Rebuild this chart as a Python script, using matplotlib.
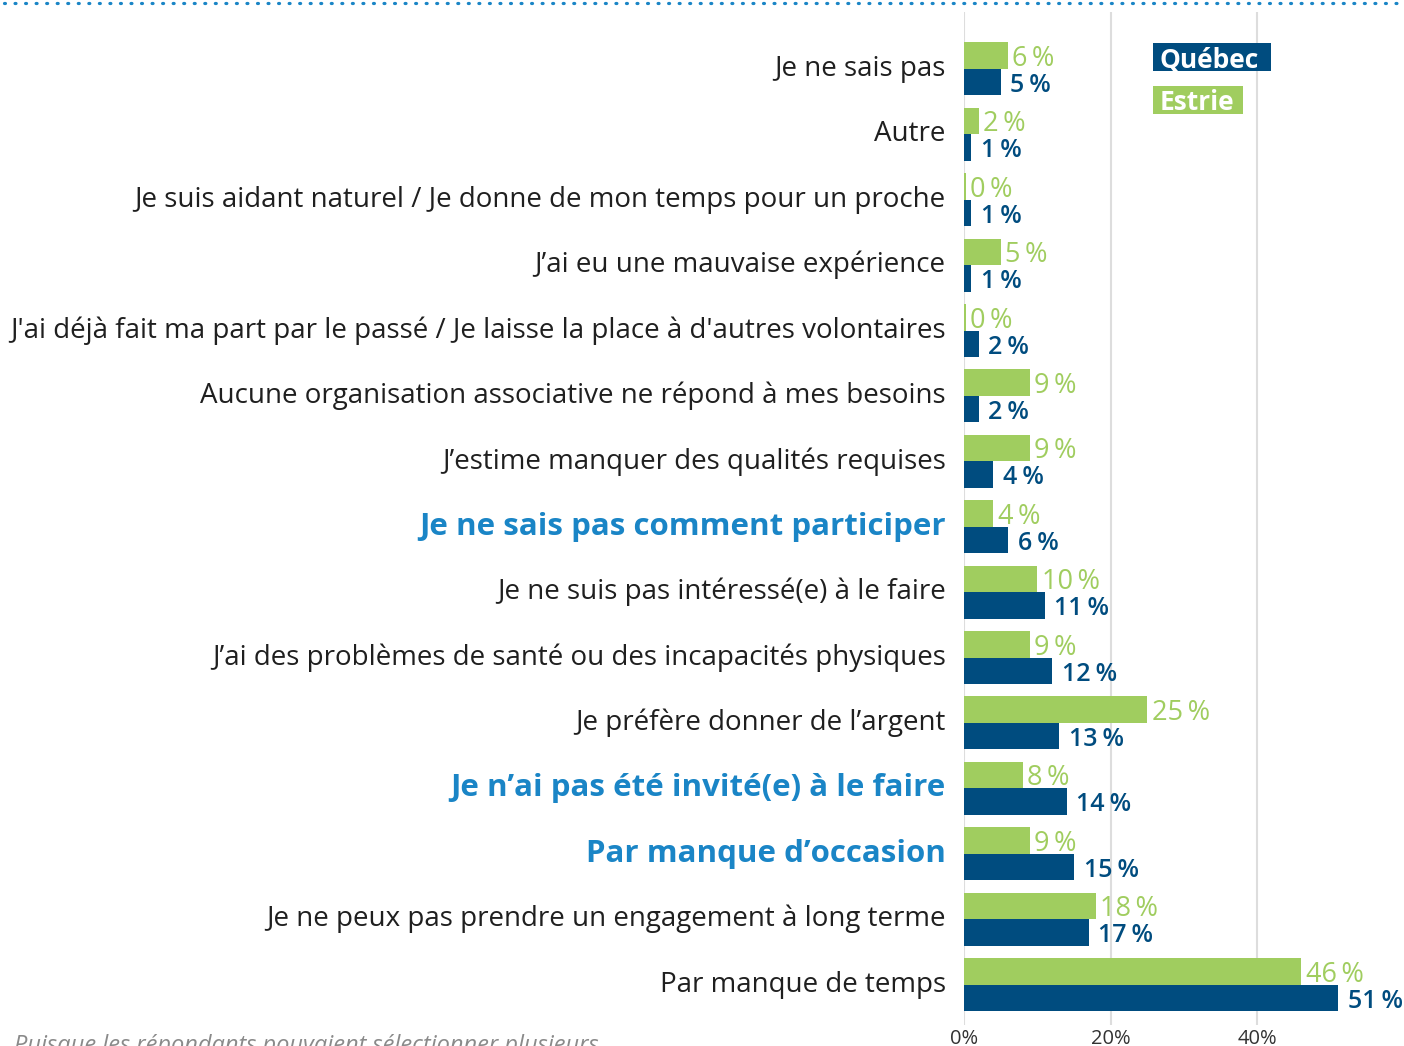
import matplotlib
matplotlib.use("Agg")
import matplotlib.pyplot as plt
from matplotlib.patches import Rectangle
import numpy as np

categories = [
    "Je ne sais pas",
    "Autre",
    "Je suis aidant naturel / Je donne de mon temps pour un proche",
    "J\u2019ai eu une mauvaise expérience",
    "J'ai déjà fait ma part par le passé / Je laisse la place à d'autres volontaires",
    "Aucune organisation associative ne répond à mes besoins",
    "J\u2019estime manquer des qualités requises",
    "Je ne sais pas comment participer",
    "Je ne suis pas intéressé(e) à le faire",
    "J\u2019ai des problèmes de santé ou des incapacités physiques",
    "Je préfère donner de l\u2019argent",
    "Je n\u2019ai pas été invité(e) à le faire",
    "Par manque d\u2019occasion",
    "Je ne peux pas prendre un engagement à long terme",
    "Par manque de temps",
]
highlighted = [
    "Je ne sais pas comment participer",
    "Je n\u2019ai pas été invité(e) à le faire",
    "Par manque d\u2019occasion",
]
estrie = [6, 2, 0, 5, 0, 9, 9, 4, 10, 9, 25, 8, 9, 18, 46]
quebec = [5, 1, 1, 1, 2, 2, 4, 6, 11, 12, 13, 14, 15, 17, 51]
xticks = [0, 20, 40]

GREEN = "#a0cd5f"
BLUE = "#004c7f"
HIGHLIGHT = "#1a85c6"
FONT = "Open Sans"

fig = plt.figure(figsize=(14.04, 10.46), dpi=100)
ax = fig.add_axes([0.6866, 0.020, 0.3134, 0.9685])

y = np.arange(len(categories))
h = 0.405
# 0 % bars still show as a hairline in the reference
est_draw = [max(v, 0.25) for v in estrie]
ax.barh(y - h / 2, est_draw, height=h, color=GREEN, zorder=3)
ax.barh(y + h / 2, quebec, height=h, color=BLUE, zorder=3)

for yi, v, vd in zip(y, estrie, est_draw):
    ax.text(vd + 0.6, yi - h / 2 + 0.05, f"{v}\u2009%", color=GREEN, fontsize=19.5,
            family=FONT, va="center", ha="left")
for yi, v in zip(y, quebec):
    ax.text(v + 1.3, yi + h / 2 + 0.05, f"{v}\u2009%", color=BLUE, fontsize=18,
            family=FONT, fontweight="semibold", va="center", ha="left")

ax.set_ylim(14.62, -0.87)
ax.set_xlim(0, 60)
ax.set_yticks(y)
ax.set_yticklabels([])
for yi, c in zip(y, categories):
    if c in highlighted:
        ax.text(-2.5, yi, c, ha="right", va="center", fontsize=22.5, fontweight="bold",
                color=HIGHLIGHT, family=FONT, clip_on=False)
    else:
        ax.text(-2.5, yi, c, ha="right", va="center", fontsize=20,
                color="#1f1f1f", family=FONT, clip_on=False)
ax.tick_params(axis="y", length=0)

ax.set_xticks(xticks)
ax.set_xticklabels([f"{t}%" for t in xticks], fontsize=14.5, color="#333333", family=FONT)
ax.tick_params(axis="x", length=0, pad=3)
ax.grid(axis="x", color="#dddddd", lw=1.5, zorder=0)
for s in ax.spines.values():
    s.set_visible(False)

# legend boxes
for label, col, y0, w in [("Québec", BLUE, 0.9321, 0.0840), ("Estrie", GREEN, 0.8910, 0.0641)]:
    fig.add_artist(Rectangle((0.8212, y0), w, 0.0268, transform=fig.transFigure,
                             fc=col, ec="none"))
    fig.text(0.8262, y0 + 0.0134, label, color="white", fontsize=19, fontweight="bold",
             family=FONT, va="center_baseline", ha="left")

# dotted rule at top
fig.add_artist(plt.Line2D([0.003, 1.0], [0.997, 0.997], color=HIGHLIGHT, lw=2.3,
                          linestyle=(0, (0.3, 3.0)), dash_capstyle="round",
                          transform=fig.transFigure))

fig.text(0.010, 1 - 1034 / 1046, "Puisque les répondants pouvaient sélectionner plusieurs",
         fontsize=17, style="italic", color="#8a8a8a", family=FONT, va="top")

fig.savefig("out.png", dpi=100)
